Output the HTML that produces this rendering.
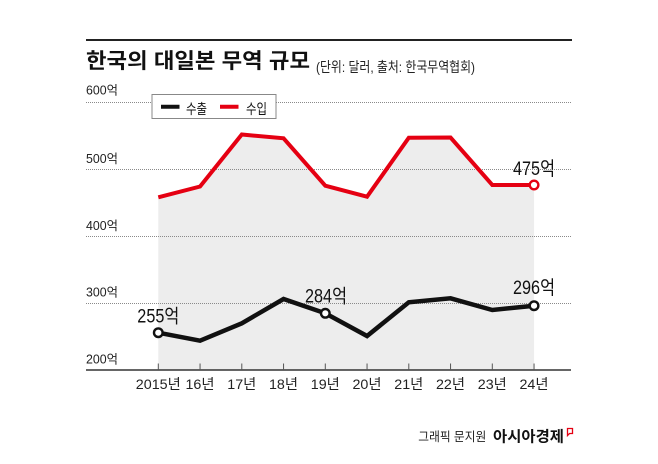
<!DOCTYPE html>
<html><head><meta charset="utf-8"><style>
html,body{margin:0;padding:0;background:#fff;}
svg{display:block;}
text{font-family:"Liberation Sans","Noto Sans CJK KR",sans-serif;}
</style></head><body>
<svg width="658" height="464" viewBox="0 0 658 464" xmlns="http://www.w3.org/2000/svg">
<rect width="658" height="464" fill="#fff"/>
<!-- top rule -->
<rect x="86" y="39" width="486" height="2" fill="#222"/>
<!-- title -->
<text x="86" y="68" font-size="21" font-weight="bold" fill="#111" textLength="224" lengthAdjust="spacingAndGlyphs">한국의 대일본 무역 규모</text>
<text x="316" y="72" font-size="14" fill="#222" textLength="159" lengthAdjust="spacingAndGlyphs">(단위: 달러, 출처: 한국무역협회)</text>

<!-- fill under red -->
<polygon fill="#ededed" points="158.3,197.3 200.05,186.5 241.8,134.5 283.55,138.3 325.3,185.7 367.05,196.7 408.8,137.7 450.55,137.5 492.3,185 534.05,185 534.05,370 158.3,370"/>

<!-- gridlines -->
<g stroke="#8a8a8a" stroke-width="1" stroke-dasharray="1,1">
<line x1="86" y1="102.5" x2="571" y2="102.5"/>
<line x1="86" y1="169.5" x2="571" y2="169.5"/>
<line x1="86" y1="236.5" x2="571" y2="236.5"/>
<line x1="86" y1="303.5" x2="571" y2="303.5"/>
</g>

<!-- y labels -->
<g font-size="12.5" fill="#222">
<text x="86" y="94.5" textLength="32" lengthAdjust="spacingAndGlyphs">600억</text>
<text x="86" y="163" textLength="32" lengthAdjust="spacingAndGlyphs">500억</text>
<text x="86" y="230" textLength="32" lengthAdjust="spacingAndGlyphs">400억</text>
<text x="86" y="296.5" textLength="32" lengthAdjust="spacingAndGlyphs">300억</text>
<text x="86" y="363.5" textLength="32" lengthAdjust="spacingAndGlyphs">200억</text>
</g>

<!-- baseline and ticks -->
<line x1="86" y1="370" x2="571" y2="370" stroke="#333" stroke-width="1.6"/>
<g stroke="#555" stroke-width="1">
<line x1="158.3" y1="363.5" x2="158.3" y2="370"/>
<line x1="200.05" y1="363.5" x2="200.05" y2="370"/>
<line x1="241.8" y1="363.5" x2="241.8" y2="370"/>
<line x1="283.55" y1="363.5" x2="283.55" y2="370"/>
<line x1="325.3" y1="363.5" x2="325.3" y2="370"/>
<line x1="367.05" y1="363.5" x2="367.05" y2="370"/>
<line x1="408.8" y1="363.5" x2="408.8" y2="370"/>
<line x1="450.55" y1="363.5" x2="450.55" y2="370"/>
<line x1="492.3" y1="363.5" x2="492.3" y2="370"/>
<line x1="534.05" y1="363.5" x2="534.05" y2="370"/>
</g>

<!-- x labels -->
<g font-size="14" fill="#222">
<text x="135.8" y="389" textLength="45" lengthAdjust="spacingAndGlyphs">2015년</text>
<text x="185.5" y="389" textLength="29" lengthAdjust="spacingAndGlyphs">16년</text>
<text x="227.3" y="389" textLength="29" lengthAdjust="spacingAndGlyphs">17년</text>
<text x="269" y="389" textLength="29" lengthAdjust="spacingAndGlyphs">18년</text>
<text x="310.8" y="389" textLength="29" lengthAdjust="spacingAndGlyphs">19년</text>
<text x="352.5" y="389" textLength="29" lengthAdjust="spacingAndGlyphs">20년</text>
<text x="394.3" y="389" textLength="29" lengthAdjust="spacingAndGlyphs">21년</text>
<text x="436" y="389" textLength="29" lengthAdjust="spacingAndGlyphs">22년</text>
<text x="477.8" y="389" textLength="29" lengthAdjust="spacingAndGlyphs">23년</text>
<text x="519.5" y="389" textLength="29" lengthAdjust="spacingAndGlyphs">24년</text>
</g>

<!-- red line -->
<polyline fill="none" stroke="#e50012" stroke-width="4" stroke-linejoin="miter" stroke-miterlimit="3" points="158.3,197.3 200.05,186.5 241.8,134.5 283.55,138.3 325.3,185.7 367.05,196.7 408.8,137.7 450.55,137.5 492.3,185 534.05,185"/>
<!-- black line -->
<polyline fill="none" stroke="#111" stroke-width="4.5" stroke-linejoin="miter" stroke-miterlimit="3" points="158.3,332.7 200.05,340.7 241.8,323.3 283.55,299 325.3,313.3 367.05,336 408.8,302.3 450.55,298.3 492.3,310 534.05,305.7"/>

<!-- markers -->
<circle cx="158.3" cy="332.7" r="4.3" fill="#fff" stroke="#111" stroke-width="2.4"/>
<circle cx="325.3" cy="313.3" r="4.3" fill="#fff" stroke="#111" stroke-width="2.4"/>
<circle cx="534.05" cy="305.7" r="4.3" fill="#fff" stroke="#111" stroke-width="2.4"/>
<circle cx="534.05" cy="185" r="4.3" fill="#fff" stroke="#e50012" stroke-width="2.4"/>

<!-- value labels -->
<g font-size="19" fill="#111">
<text x="137.3" y="322.7" textLength="42" lengthAdjust="spacingAndGlyphs">255억</text>
<text x="305" y="302.3" textLength="42" lengthAdjust="spacingAndGlyphs">284억</text>
<text x="513" y="294" textLength="42" lengthAdjust="spacingAndGlyphs">296억</text>
<text x="513" y="175" textLength="42" lengthAdjust="spacingAndGlyphs">475억</text>
</g>

<!-- legend -->
<rect x="152" y="94.5" width="124" height="24" fill="#fff" stroke="#888" stroke-width="1"/>
<line x1="161" y1="106.7" x2="179.5" y2="106.7" stroke="#111" stroke-width="4"/>
<text x="186" y="114" font-size="14" fill="#111" textLength="21" lengthAdjust="spacingAndGlyphs">수출</text>
<line x1="220" y1="106.7" x2="238.5" y2="106.7" stroke="#e50012" stroke-width="4"/>
<text x="246" y="114" font-size="14" fill="#111" textLength="21" lengthAdjust="spacingAndGlyphs">수입</text>

<!-- footer -->
<text x="418.3" y="441" font-size="12.5" fill="#222" textLength="68" lengthAdjust="spacingAndGlyphs">그래픽 문지원</text>
<text x="493" y="441.5" font-size="15" font-weight="bold" fill="#111" textLength="71" lengthAdjust="spacingAndGlyphs">아시아경제</text>
<path d="M567.5,428.5 L572.5,428.5 L572.5,433.5 L569.5,433.5 L567.5,435.5 Z" fill="none" stroke="#e50012" stroke-width="1.3"/>
</svg>
</body></html>
